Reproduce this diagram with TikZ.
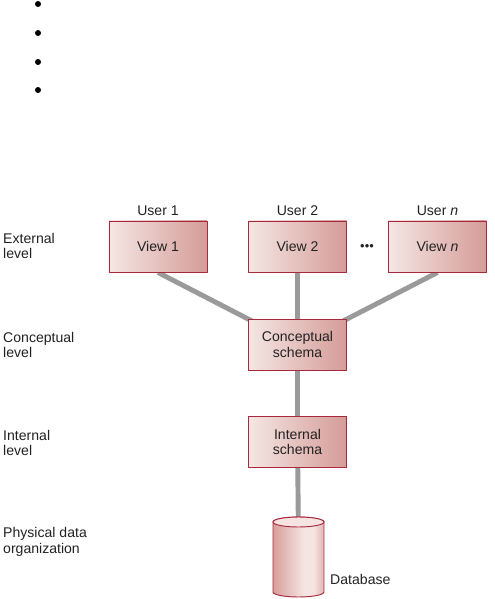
\documentclass[tikz,border=0pt]{standalone}
\usepackage{fontspec}
\setmainfont{Liberation Sans}
\usetikzlibrary{backgrounds}

\definecolor{boxL}{HTML}{F5E6E4}
\definecolor{boxR}{HTML}{D49C98}
\definecolor{boxB}{HTML}{A8283C}
\definecolor{linkG}{HTML}{9A9A9A}
\definecolor{dbA}{HTML}{D89E9A}
\definecolor{dbB}{HTML}{F5E4E2}
\definecolor{dbC}{HTML}{E2B4B0}
\definecolor{txt}{HTML}{222222}
\pgfdeclarehorizontalshading{dbshade}{100bp}{color(0bp)=(dbA); color(25bp)=(dbA); color(55bp)=(dbB); color(65bp)=(dbB); color(75bp)=(dbC); color(100bp)=(dbC)}

\begin{document}
\begin{tikzpicture}[x=0.03cm, y=-0.03cm, line join=round,
    every node/.style={font=\fontsize{12}{13.6}\selectfont, text=txt},
    schema/.style={draw=boxB, line width=0.8pt, left color=boxL, right color=boxR,
        minimum width=2.94cm, minimum height=1.53cm, align=center, inner sep=0pt},
    lvl/.style={anchor=west, align=left, inner sep=0pt},
    bulletdot/.style={circle, fill=black, inner sep=0pt, minimum size=0.18cm},
    link/.style={draw=linkG, line width=4.2pt}]
    \useasboundingbox (0,0) rectangle (494,599);

    % 列表圆点
    \foreach \y in {4,33,62,90}
        \node[bulletdot] (bul\y) at (38,\y) {};

    % 层次名称
    \node[lvl] (ext) at (3,246) {External\\level};
    \node[lvl] (con) at (3,345) {Conceptual\\level};
    \node[lvl] (int) at (3,443) {Internal\\level};
    \node[lvl] (phy) at (3,542) {Physical data\\organization};

    % 用户与视图
    \node (u1) at (158,211) {User 1};
    \node (u2) at (297.5,211) {User 2};
    \node (un) at (437.5,211) {User \textit{n}};
    \node[schema] (v1) at (158,246.5) {View 1};
    \node[schema] (v2) at (297.5,246.5) {View 2};
    \node[schema] (vn) at (437.5,246.5) {View \textit{n}};
    \node[inner sep=0pt, font=\fontsize{11}{11}\selectfont] (dots) at (367,247) {\textbullet\textbullet\textbullet};

    % 模式
    \node[schema] (cs) at (297.5,344.5) {Conceptual\\schema};
    \node[schema] (is) at (297.5,442) {Internal\\schema};

    % 数据库
    \coordinate (db) at (298.5,540);
    \shadedraw[shading=dbshade, draw=boxB, line width=0.8pt]
        (273,522) -- (273,592) arc[start angle=180, end angle=360, x radius=0.765cm, y radius=0.15cm]
        -- (324,522) arc[start angle=0, end angle=180, x radius=0.765cm, y radius=0.15cm] -- cycle;
    \filldraw[draw=boxB, fill=dbB, line width=0.8pt] (298.5,522) ellipse[x radius=0.765cm, y radius=0.15cm];
    \node[anchor=west, inner sep=0pt] (dbl) at (330,579) {Database};

    % 连线
    \begin{scope}[on background layer]
        \draw[link] (v1.south) -- (cs.center);
        \draw[link] (v2.center) -- (cs.center);
        \draw[link] (vn.south) -- (cs.center);
        \draw[link] (cs.center) -- (is.center);
        \draw[link] (is.center) -- (db);
    \end{scope}
\end{tikzpicture}
\end{document}
